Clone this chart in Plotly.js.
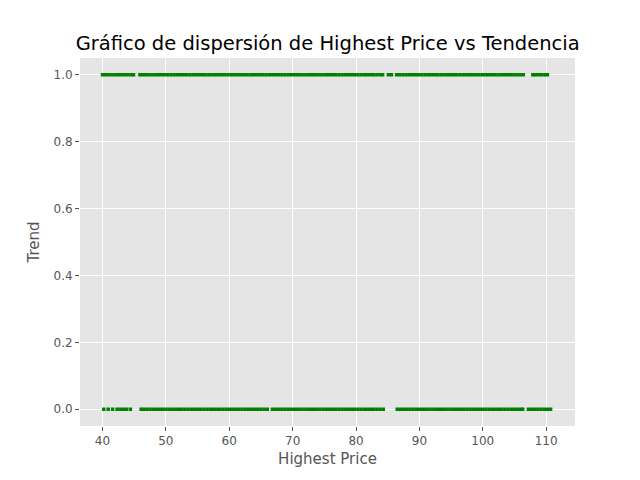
<!DOCTYPE html>
<html>
<head>
<meta charset="utf-8">
<script src="https://cdn.plot.ly/plotly-3.0.1.min.js"></script>
<style>body{margin:0}#gd{width:640px;height:480px}</style>
</head>
<body>
<div id="gd"></div>
<script>
// Highest Price values observed with Trend = 1
const priceUp = [40,40.5,41,41.5,42,42.5,43,43.5,44,44.5,44.9,
  45.9,46.3,46.8,47.3,47.8,48.3,48.8,49.3,49.8,50.3,50.8,51.3,51.8,52.3,52.8,53.3,53.8,54.3,54.8,55.3,55.8,56.3,56.8,57.3,57.8,58.3,58.8,59.3,59.8,60.3,
  60.8,61.3,61.8,62.3,62.8,63.3,63.8,64.3,64.8,65.3,65.8,66.3,66.8,67.3,67.8,68.3,68.8,69.3,69.8,70.3,70.8,71.3,71.8,72.3,72.8,73.3,73.8,74.3,74.8,75.3,
  75.8,76.3,76.8,77.3,77.8,78.3,78.8,79.3,79.8,80.3,80.8,81.3,81.8,82.3,82.8,83.3,83.8,84.2,
  85.1,85.6,
  86.4,86.9,87.4,87.9,88.4,88.9,89.4,89.9,90.4,90.9,91.4,91.9,92.4,92.9,93.4,93.9,94.4,94.9,95.4,95.9,96.4,96.9,97.4,97.9,98.4,98.9,99.4,99.9,100.4,
  100.9,101.4,101.9,102.4,102.9,103.4,103.9,104.4,104.9,105.4,105.9,106.4,
  107.9,108.3,108.8,109.3,109.8,110.2];
// Highest Price values observed with Trend = 0
const priceDown = [40.2,40.9,41.6,42.3,42.8,43.3,43.8,44.4,
  46.1,46.5,
  47,47.5,48,48.5,49,49.5,50,50.5,51,51.5,52,52.5,53,53.5,54,54.5,55,55.5,56,56.5,57,57.5,58,58.5,59,59.5,60,
  60.5,61,61.5,62,62.5,63,63.5,64,64.5,65,65.5,66,
  66.8,67.3,67.8,68.3,68.8,69.3,69.8,70.3,70.8,71.3,71.8,72.3,72.8,73.3,73.8,74.3,74.8,75.3,75.8,76.3,76.8,77.3,77.8,
  78.3,78.8,79.3,79.8,80.3,80.8,81.3,81.8,82.3,82.8,83.3,83.8,84.3,
  86.5,87,87.5,88,88.5,89,89.5,90,90.5,91,91.5,92,92.5,93,93.5,94,94.5,95,95.5,96,96.5,97,97.5,98,98.5,99,99.5,100,
  100.5,101,101.5,102,102.5,103,103.5,104,104.5,105,105.5,106,106.3,
  107.2,107.7,108.2,108.7,109.2,109.7,110.2,110.7];
const trendUp = priceUp.map(() => 1);
const trendDown = priceDown.map(() => 0);

const data = [{
  x: priceUp.concat(priceDown),
  y: trendUp.concat(trendDown),
  mode: "markers",
  type: "scatter",
  marker: {color: "green", size: 3.5, symbol: "square"},
  hoverinfo: "x+y"
}];

const axisStyle = {
  showgrid: true, gridcolor: "white", gridwidth: 1, zeroline: false,
  showline: false, ticks: "outside", ticklen: 4, tickcolor: "#555",
  tickfont: {size: 12, color: "#555"}
};

const layout = {
  width: 640, height: 480,
  margin: {l: 80, r: 65, t: 58, b: 54},
  paper_bgcolor: "white", plot_bgcolor: "#E5E5E5",
  font: {family: "DejaVu Sans", color: "#555"},
  title: {text: "Gráfico de dispersión de Highest Price vs Tendencia", font: {size: 19.5, color: "black"}, x: 0.512, y: 0.925, xanchor: "center"},
  xaxis: Object.assign({}, axisStyle, {range: [36.45, 114.55], dtick: 10, title: {text: "Highest Price", font: {size: 15, color: "#555"}, standoff: 6}}),
  yaxis: Object.assign({}, axisStyle, {range: [-0.05, 1.05], dtick: 0.2, tickformat: ".1f", title: {text: "Trend", font: {size: 15, color: "#555"}, standoff: 10}}),
  showlegend: false
};

Plotly.newPlot("gd", data, layout, {displayModeBar: false});
</script>
</body>
</html>
